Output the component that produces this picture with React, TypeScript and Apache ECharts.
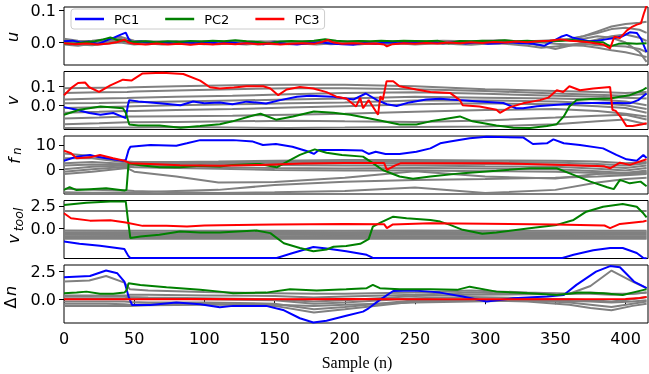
import React, { useEffect, useRef } from "react";
import * as echarts from "echarts";

// ---------- shared ----------
const X_MAX = 416;
const X_TICK_INTERVAL = 50;
const LEGEND_NAMES = ["PC1", "PC2", "PC3"];

// ---------- panel 1 : u ----------
const U_X = [0,10,20,30,40,50,60,70,80,90,100,110,120,130,140,150,160,170,180,190,200,210,220,230,240,250,260,270,280,290,300,310,320,330,340,350,360,370,380,390,400,410,415];
const U_GRAY = [
  [0.008,0.004,0.006,0.01,0.018,0.006,0.004,0.002,0.005,0.003,0.004,0.002,0.005,0.003,0.001,0.004,0.002,0.003,0.005,0.002,0.004,0.003,0.002,0.004,0.003,0.005,0.004,0.006,0.005,0.004,0.006,0.007,0.005,0.004,0.006,0.008,0.01,0.02,0.035,0.05,0.058,0.062,0.065],
  [0.002,-0.004,0.0,0.004,0.01,0.002,-0.002,0.001,-0.001,0.002,0.0,-0.002,0.001,-0.003,0.0,-0.001,0.002,-0.002,0.0,0.001,-0.002,0.0,0.002,-0.001,0.001,0.0,0.002,-0.001,0.001,0.003,0.002,0.004,0.002,0.003,0.004,0.006,0.012,0.02,0.03,0.042,0.046,0.04,0.03],
  [-0.006,-0.01,-0.004,-0.002,0.004,-0.003,-0.005,-0.002,-0.004,-0.002,-0.005,-0.003,-0.004,-0.006,-0.003,-0.005,-0.002,-0.004,-0.006,-0.003,-0.004,-0.002,-0.003,-0.004,-0.002,-0.003,-0.001,-0.004,-0.002,-0.001,-0.002,-0.003,-0.001,-0.002,-0.01,-0.02,-0.01,0.0,0.01,0.02,0.025,0.015,0.005],
  [0.004,0.0,0.003,0.006,0.012,0.001,0.003,-0.001,0.002,0.0,0.003,0.001,-0.001,0.002,0.004,0.001,0.003,0.0,0.002,0.004,0.001,0.003,0.0,0.002,0.004,0.001,0.003,0.002,0.0,0.002,0.001,0.003,0.004,0.002,0.0,-0.004,-0.006,-0.004,-0.008,-0.01,-0.012,-0.02,-0.03],
  [-0.002,-0.006,-0.008,-0.004,0.0,-0.006,-0.003,-0.006,-0.002,-0.005,-0.002,-0.005,-0.002,-0.004,-0.006,-0.002,-0.005,-0.003,-0.001,-0.005,-0.003,-0.006,-0.002,-0.005,-0.003,-0.006,-0.004,-0.002,-0.005,-0.007,-0.004,-0.002,-0.006,-0.01,-0.016,-0.012,-0.008,-0.01,-0.016,-0.024,-0.03,-0.04,-0.045],
  [0.012,0.006,0.002,0.0,0.006,0.0,0.002,0.004,0.0,0.003,0.001,0.004,0.002,0.0,0.002,0.003,0.0,0.004,0.002,-0.001,0.002,0.004,0.001,0.0,0.003,0.001,-0.001,0.002,0.003,0.001,0.004,0.002,0.0,0.003,0.002,0.004,0.008,0.012,0.02,0.015,0.0,-0.03,-0.06],
];
const U_PC1 = [[0,0.004],[6,0.006],[12,0.0],[18,0.003],[24,-0.004],[28,0.002],[32,0.01],[36,0.016],[40,0.024],[44,0.031],[46,0.012],[48,0.002],[55,0.003],[62,-0.002],[70,0.002],[78,-0.003],[86,0.001],[94,-0.002],[102,0.002],[110,-0.003],[118,0.001],[126,-0.004],[134,0.0],[142,-0.005],[150,0.001],[158,-0.004],[166,-0.006],[174,-0.002],[182,0.001],[190,-0.003],[198,-0.005],[206,-0.007],[214,-0.001],[222,-0.004],[230,0.001],[238,-0.002],[246,0.002],[254,-0.001],[262,0.002],[270,-0.002],[278,0.001],[286,-0.003],[294,0.001],[302,-0.004],[310,-0.002],[318,0.001],[326,-0.002],[334,-0.004],[342,-0.01],[348,0.004],[354,0.018],[358,0.024],[362,0.016],[368,0.01],[374,0.004],[380,0.006],[386,0.01],[392,0.014],[398,0.02],[403,0.032],[408,0.03],[411,0.012],[415,-0.03]];
const U_PC2 = [[0,-0.003],[8,-0.004],[15,0.001],[22,0.004],[28,0.01],[33,0.016],[38,0.008],[44,0.006],[50,0.002],[58,0.004],[66,0.001],[74,0.004],[82,0.002],[90,0.005],[98,0.003],[106,0.006],[114,0.004],[122,0.007],[130,0.004],[138,0.002],[146,-0.003],[154,0.003],[162,0.005],[170,0.003],[178,0.006],[186,0.01],[194,0.006],[202,0.003],[210,0.005],[218,0.004],[226,0.006],[234,0.004],[242,0.006],[250,0.005],[258,0.004],[266,0.006],[274,-0.002],[282,0.005],[290,0.004],[298,0.006],[306,0.005],[314,0.007],[322,0.004],[330,0.006],[338,0.003],[346,0.005],[354,0.006],[362,0.008],[370,0.004],[378,0.002],[384,0.001],[389,-0.012],[395,-0.004],[402,-0.002],[408,-0.004],[415,-0.002]];
const U_PC3 = [[0,-0.002],[8,-0.005],[16,-0.003],[24,-0.006],[32,-0.003],[38,0.002],[43,0.009],[46,0.0],[50,-0.004],[58,-0.006],[66,-0.003],[74,-0.006],[82,-0.004],[90,-0.007],[98,-0.004],[106,-0.006],[114,-0.003],[122,-0.005],[130,-0.002],[138,-0.005],[146,-0.003],[154,-0.006],[162,-0.004],[170,-0.002],[178,-0.004],[184,0.002],[188,0.008],[192,0.0],[198,-0.004],[206,-0.002],[214,-0.004],[222,-0.003],[228,-0.006],[230,-0.012],[234,-0.005],[242,-0.002],[250,-0.004],[258,-0.001],[266,-0.003],[274,0.0],[282,-0.002],[290,0.001],[298,-0.001],[306,0.002],[314,0.0],[322,0.003],[330,0.001],[338,0.004],[346,0.006],[354,0.01],[360,0.006],[366,0.004],[372,0.002],[378,-0.002],[384,-0.006],[389,-0.018],[392,0.018],[396,0.014],[401,0.038],[405,0.05],[408,0.056],[411,0.06],[413,0.09],[415,0.115]];

// ---------- panel 2 : v ----------
const V_X = [0,25,45,50,80,120,160,200,250,300,350,380,400,415];
const V_GRAY = [
  [0.09,0.092,0.094,0.095,0.1,0.105,0.108,0.108,0.1,0.085,0.075,0.07,0.065,0.07],
  [0.065,0.068,0.07,0.072,0.078,0.085,0.09,0.09,0.085,0.075,0.062,0.055,0.05,0.06],
  [0.03,0.035,0.038,0.04,0.045,0.05,0.058,0.065,0.068,0.06,0.05,0.045,0.04,0.035],
  [0.01,0.012,0.015,0.016,0.02,0.025,0.03,0.035,0.045,0.04,0.035,0.03,0.02,0.0],
  [-0.015,-0.01,-0.006,-0.005,0.0,0.005,0.01,0.015,0.025,0.025,0.02,0.01,0.0,-0.02],
  [-0.04,-0.035,-0.03,-0.03,-0.025,-0.02,-0.012,-0.005,0.005,0.01,0.005,-0.005,-0.015,-0.04],
  [-0.07,-0.065,-0.06,-0.06,-0.058,-0.055,-0.05,-0.045,-0.035,-0.025,-0.02,-0.03,-0.045,-0.06],
  [-0.1,-0.095,-0.09,-0.09,-0.088,-0.085,-0.082,-0.085,-0.088,-0.08,-0.065,-0.055,-0.05,-0.075],
  [-0.12,-0.119,-0.118,-0.118,-0.115,-0.117,-0.12,-0.118,-0.115,-0.112,-0.1,-0.085,-0.075,-0.1],
];
const V_PC1 = [[0,-0.01],[9,-0.024],[18,-0.041],[26,-0.05],[35,-0.041],[41,-0.059],[44,-0.067],[45.5,0.0],[46.5,0.027],[53,0.02],[68,0.01],[83,0.0],[92,0.02],[100,0.01],[111,0.015],[120,0.005],[130,0.019],[144,0.009],[154,0.027],[166,0.045],[175,0.05],[192,0.045],[206,0.03],[215,0.062],[223,0.027],[230,0.005],[237,-0.004],[246,0.015],[258,0.03],[268,0.034],[275,0.03],[296,0.02],[313,0.012],[322,-0.016],[327,-0.016],[337,-0.005],[356,0.005],[368,0.01],[384,0.013],[403,0.01],[409,0.027],[415,0.062]];
const V_PC2 = [[0,-0.05],[11,-0.024],[26,-0.007],[33,-0.01],[42,-0.016],[44,-0.04],[46.5,-0.102],[53,-0.107],[68,-0.107],[83,-0.119],[97,-0.11],[111,-0.1],[120,-0.085],[132,-0.059],[140,-0.045],[151,-0.076],[163,-0.059],[178,-0.033],[192,-0.04],[204,-0.05],[216,-0.067],[225,-0.08],[239,-0.102],[251,-0.102],[261,-0.085],[268,-0.076],[282,-0.059],[291,-0.085],[308,-0.107],[320,-0.119],[332,-0.12],[344,-0.11],[351,-0.1],[356,-0.059],[360,-0.007],[365,0.027],[375,0.033],[389,0.036],[396,0.045],[403,0.053],[412,0.079],[415,0.093]];
const V_PC3 = [[0,0.053],[5,0.09],[10,0.117],[15,0.12],[18,0.095],[25,0.07],[33,0.105],[42,0.135],[48,0.13],[56,0.168],[70,0.172],[85,0.165],[97,0.13],[104,0.095],[111,0.088],[121,0.093],[130,0.1],[142,0.1],[147,0.088],[152.6,0.053],[158.6,0.083],[168,0.096],[177.6,0.088],[187,0.069],[194,0.045],[201,0.036],[208,-0.007],[211,0.04],[213,-0.016],[217,0.027],[223.7,-0.05],[225.4,0.048],[227,0.027],[229.8,0.127],[234.5,0.127],[239,0.1],[251,0.083],[261,0.07],[275,0.065],[282,0.027],[284,0.0],[296,-0.007],[308,-0.024],[310.5,-0.04],[317.7,-0.01],[327,0.01],[339,0.027],[345,0.04],[351,0.079],[355.6,0.07],[360,0.1],[367.5,0.079],[377,0.088],[389,0.096],[390.7,-0.024],[393,-0.03],[397,-0.067],[400.7,-0.11],[405,-0.11],[412,-0.1],[415,-0.095]];

// ---------- panel 3 : f_n ----------
const F_X = [0,20,45,50,80,110,150,200,250,300,350,380,400,415];
const F_GRAY = [
  [6.5,5.5,3.2,3.0,3.0,3.2,3.5,3.8,3.8,3.6,3.5,3.2,2.5,3.0],
  [4.5,4.5,2.8,2.6,2.7,2.8,3.0,3.2,3.0,3.0,2.8,2.2,1.5,2.5],
  [2.5,3.0,2.2,2.2,2.3,2.4,2.5,2.6,2.4,2.2,2.0,1.2,0.5,1.5],
  [1.5,2.0,1.8,1.8,1.8,1.9,1.8,1.5,1.5,1.2,1.0,0.2,-0.5,0.5],
  [0.0,1.0,1.5,1.5,1.2,0.8,0.5,0.3,0.5,0.3,0.0,-0.8,-1.5,-0.5],
  [-1.0,0.0,1.0,0.8,0.5,0.2,-0.3,-0.5,-0.5,-0.8,-1.0,-1.5,-2.0,-1.5],
  [-2.0,-1.0,0.5,-1.0,-3.0,-5.5,-5.3,-3.5,-0.8,-3.0,-3.8,-2.0,-1.5,-1.0],
  [-9.5,-9.7,-9.6,-9.6,-9.0,-8.5,-6.5,-5.2,-4.4,-4.0,-3.5,-3.0,-2.5,-2.0],
  [-8.0,-8.5,-8.8,-9.0,-9.5,-9.8,-9.5,-9.0,-7.5,-9.8,-8.5,-5.5,-4.0,-3.5],
];
const F_PC1 = [[0,3.5],[9,5.2],[18.5,5.9],[25.6,4.9],[35,4.1],[42,3.5],[44,3.8],[46,7.9],[47.3,9.3],[61.5,10.0],[80,9.7],[87.5,10.7],[97,12.0],[120.5,12.0],[134.6,11.4],[141.7,10.0],[151,10.4],[162.7,9.3],[174.5,7.2],[178,6.3],[181.6,7.9],[198,7.9],[212.6,7.7],[217,6.3],[222,7.2],[229,6.3],[239,6.3],[251,7.2],[261,8.6],[268,10.7],[275,11.4],[289,12.8],[301,13.4],[327,13.1],[334,10.4],[344,10.7],[348.6,12.3],[356,10.7],[367.5,10.0],[384,8.6],[393.5,5.9],[400.7,4.1],[408,3.5],[412.7,5.9],[415,4.6]];
const F_PC2 = [[0,-8.5],[4,-7.4],[9,-8.6],[18.5,-8.2],[30,-7.8],[43,-8.8],[44.5,-8.5],[46,2.5],[54.4,1.6],[68,0.8],[82.6,0.8],[97,1.4],[111,1.1],[120.5,1.8],[139.6,2.2],[151.5,0.8],[161,3.8],[168,5.9],[178.6,8.2],[187,6.8],[198,5.9],[213,5.2],[220,2.5],[227,-0.3],[239,-3.0],[248.6,-3.9],[261,-3.0],[284,-1.6],[308,-0.6],[331.6,0.4],[351,0.4],[363,-2.3],[375,-5.1],[387,-7.4],[391.6,-8.2],[396,-4.4],[403,-5.8],[410.7,-5.1],[415,-7.0]];
const F_PC3 = [[0,7.7],[5,6.6],[9,4.5],[18.5,4.9],[25.6,5.9],[35,4.5],[43,3.5],[47,2.5],[61.5,2.2],[82.6,1.6],[111,1.4],[140,1.8],[170,2.4],[200,2.6],[228,2.6],[230,-0.3],[236,1.6],[240,2.5],[261,2.5],[308,2.5],[356,1.8],[385,1.2],[389,0.4],[396,2.7],[403,1.8],[415,4.1]];

// ---------- panel 4 : v_tool ----------
const T_X = [0,45,50,100,150,200,250,300,350,400,415];
const T_GRAY = [
  [1.95,1.95,1.95,1.95,1.95,1.95,1.95,1.95,1.95,1.95,1.95],
  [-0.25,-0.28,-0.3,-0.3,-0.28,-0.3,-0.25,-0.3,-0.28,-0.3,-0.3],
  [-0.45,-0.45,-0.48,-0.45,-0.42,-0.45,-0.43,-0.45,-0.47,-0.45,-0.45],
  [-0.6,-0.6,-0.62,-0.6,-0.6,-0.62,-0.6,-0.6,-0.6,-0.62,-0.6],
  [-0.75,-0.72,-0.75,-0.75,-0.72,-0.75,-0.73,-0.75,-0.75,-0.73,-0.75],
  [-0.9,-0.88,-0.9,-0.88,-0.9,-0.88,-0.9,-0.9,-0.88,-0.9,-0.9],
  [-1.05,-1.05,-1.02,-1.05,-1.05,-1.03,-1.05,-1.05,-1.05,-1.03,-1.05],
  [-1.2,-1.18,-1.2,-1.2,-1.18,-1.2,-1.2,-1.18,-1.2,-1.2,-1.2],
];
const T_PC1 = [[0,-1.5],[11,-1.75],[25.6,-1.98],[43,-2.35],[46,-3.18],[47.3,-3.36],[151.5,-3.36],[163,-2.8],[177.6,-2.13],[187,-2.3],[201,-2.6],[215.6,-3.0],[220,-3.36],[355,-3.36],[363,-3.0],[377,-2.5],[389,-2.24],[398,-2.24],[408,-2.8],[412.7,-3.36],[415,-3.4]];
const T_PC2 = [[0,2.6],[16,2.87],[33,3.0],[44,3.0],[45.5,1.0],[47.3,-1.12],[54.4,-0.94],[68,-0.75],[82.6,-0.38],[97,-0.5],[111,-0.5],[120.5,-0.4],[137,-0.27],[147,-0.56],[156.6,-1.7],[168,-2.24],[177.6,-2.6],[187,-2.4],[192,-2.1],[201,-2.0],[211,-1.76],[217,-1.24],[220,0.18],[225.4,0.63],[234.5,1.3],[244,1.12],[261,0.93],[268,0.74],[275,0.37],[284,-0.19],[298,-0.64],[308,-0.5],[331.6,0.0],[351,0.37],[363,0.93],[372,1.86],[384,2.42],[398,2.72],[408,2.42],[412.7,1.68],[415,1.23]];
const T_PC3 = [[0,1.68],[5,1.12],[18.5,0.85],[33,0.9],[44,0.63],[56,0.26],[73,0.26],[87.6,0.19],[100,0.3],[111,0.33],[150,0.4],[200,0.48],[228,0.45],[230,0.0],[234,0.4],[261,0.56],[300,0.5],[350,0.4],[385,0.3],[389,0.0],[396,0.48],[412.7,0.75],[415,0.85]];

// ---------- panel 5 : Δn ----------
const N_X = [0,18,30,43,47,60,100,150,178,200,250,290,330,360,375,390,405,415];
const N_GRAY = [
  [1.6,1.7,2.1,1.5,0.9,0.8,0.65,0.55,0.5,0.5,0.6,0.8,0.6,0.5,0.5,0.4,0.5,0.6],
  [0.3,0.3,0.35,0.35,0.2,0.15,0.1,0.0,-0.2,-0.1,0.3,0.4,0.45,0.5,1.2,2.6,1.6,1.0],
  [0.35,0.35,0.3,0.3,0.4,0.4,0.35,0.3,0.15,0.25,0.4,0.6,0.5,0.5,0.6,0.5,0.5,0.6],
  [0.1,0.1,0.1,0.1,0.15,0.1,0.0,-0.1,-0.4,-0.3,0.1,0.2,0.1,0.0,-0.1,-0.2,0.0,0.2],
  [-0.2,-0.2,-0.2,-0.2,-0.25,-0.3,-0.3,-0.4,-0.9,-0.7,-0.1,0.0,-0.1,-0.3,-0.5,-0.7,-0.4,-0.2],
  [-0.4,-0.4,-0.4,-0.45,-0.5,-0.45,-0.4,-0.6,-1.2,-0.9,-0.2,-0.1,-0.2,-0.5,-0.8,-1.0,-0.6,-0.4],
  [-0.6,-0.6,-0.6,-0.6,-0.6,-0.55,-0.5,-0.5,-0.6,-0.5,-0.3,-0.2,-0.1,-0.15,-0.2,-0.3,-0.2,-0.1],
];
const N_PC1 = [[0,2.0],[18.5,2.1],[30,2.6],[38,2.35],[43,1.6],[46,0.24],[48.5,-0.52],[61.5,-0.52],[80,-0.3],[97,-0.45],[111,-0.73],[120.5,-0.6],[144,-0.6],[156,-0.97],[168,-1.72],[177.6,-2.1],[187,-1.94],[201,-1.5],[213,-1.12],[217,-0.82],[225,-0.06],[234.5,0.75],[249,0.8],[261,0.69],[268,0.6],[284,0.24],[301,-0.21],[320,0.09],[344,0.24],[356,0.39],[365,1.3],[379,2.5],[389,3.0],[396,2.9],[406,1.6],[413,1.14],[415,1.0]];
const N_PC2 = [[0,0.54],[9,0.6],[16,0.69],[25.6,0.5],[35,0.5],[43,0.6],[44.5,0.8],[46,1.45],[54.4,1.3],[73,1.09],[97,0.85],[111,0.69],[120.5,0.54],[144,0.6],[161,0.9],[180,0.8],[201,0.9],[215.6,1.0],[220,1.3],[225,1.0],[239,0.9],[261,0.9],[280,0.85],[289,1.14],[308,0.69],[331.6,0.54],[351,0.39],[367.5,0.6],[384,0.54],[398,0.39],[413,0.85],[415,0.9]];
const N_PC3 = [[0,0.0],[50,0.0],[100,0.02],[150,0.0],[200,0.02],[250,0.0],[300,0.0],[350,0.0],[400,0.02],[410,0.12],[415,0.2]];

// ---------- axes ----------
const Y_RANGES = [[-0.07, 0.111], [-0.128, 0.178], [-10.2, 13.7], [-3.42, 3.12], [-2.15, 3.1]];
const Y_TICKS = [[0, 0.1], [0, 0.1], [0, 10], [0, 2.5], [0, 2.5]];
const Y_DECIMALS = [1, 1, 0, 1, 1];

const PANELS = [
  { xs: U_X, grays: U_GRAY, pcs: [U_PC1, U_PC2, U_PC3] },
  { xs: V_X, grays: V_GRAY, pcs: [V_PC1, V_PC2, V_PC3] },
  { xs: F_X, grays: F_GRAY, pcs: [F_PC1, F_PC2, F_PC3] },
  { xs: T_X, grays: T_GRAY, pcs: [T_PC1, T_PC2, T_PC3] },
  { xs: N_X, grays: N_GRAY, pcs: [N_PC1, N_PC2, N_PC3] },
];

const GRID_TOPS = [7, 71.5, 136, 200.5, 265];
const GRID_H = 58;
const PC_COLORS = ["#0000ff", "#008000", "#ff0000"];
const GRAY = "#808080";
const FONT = "DejaVu Sans";

export default function App() {
  const ref = useRef<HTMLDivElement>(null);
  useEffect(() => {
    if (!ref.current) return;
    const chart = echarts.init(ref.current, null, { renderer: "svg" });

    const grids = GRID_TOPS.map((t) => ({
      left: 64, right: 1, top: t, height: GRID_H,
      show: true, borderColor: "#000", borderWidth: 1, backgroundColor: "transparent",
    }));
    const xAxes = GRID_TOPS.map((_, i) => {
      const last = i === GRID_TOPS.length - 1;
      return {
        type: "value", gridIndex: i, min: 0, max: X_MAX, interval: X_TICK_INTERVAL,
        axisLine: { show: false },
        axisTick: { show: last, inside: false, length: 5, lineStyle: { color: "#000", width: 1 } },
        axisLabel: { show: last, color: "#000", fontSize: 16, fontFamily: FONT, margin: 7,
          showMaxLabel: false },
        splitLine: { show: false },
      };
    });
    const yAxes = Y_RANGES.map((r, i) => ({
      type: "value", gridIndex: i, min: r[0], max: r[1],
      axisLine: { show: false },
      axisTick: { show: true, inside: false, length: 5, customValues: Y_TICKS[i], lineStyle: { color: "#000", width: 1 } },
      axisLabel: { color: "#000", fontSize: 16, fontFamily: FONT, margin: 8, customValues: Y_TICKS[i],
        formatter: (v: number) => v.toFixed(Y_DECIMALS[i]) },
      splitLine: { show: false },
    }));

    const series: any[] = [];
    PANELS.forEach((p, i) => {
      p.grays.forEach((ys) => {
        series.push({
          type: "line", xAxisIndex: i, yAxisIndex: i, symbol: "none", silent: true,
          data: p.xs.map((x, k) => [x, ys[k]]),
          lineStyle: { color: GRAY, width: 2 }, z: 2,
        });
      });
      p.pcs.forEach((d, k) => {
        series.push({
          name: LEGEND_NAMES[k], type: "line", xAxisIndex: i, yAxisIndex: i, symbol: "none", showSymbol: false,
          data: d, lineStyle: { color: PC_COLORS[k], width: 2 }, itemStyle: { color: PC_COLORS[k] }, z: 3 + k,
        });
      });
    });

    const italic = { fontStyle: "italic", fontFamily: FONT, fill: "#000" };
    const txt = (x: number, y: number, text: string, size: number, extra: any = {}) => ({
      type: "text", x, y,
      style: { text, fontSize: size, ...italic, align: "center", verticalAlign: "middle",
        textAlign: "center", textVerticalAlign: "middle", ...extra },
    });

    chart.setOption({
      animation: false,
      grid: grids,
      xAxis: xAxes,
      yAxis: yAxes,
      legend: {
        data: LEGEND_NAMES.map((n) => ({ name: n, icon: "rect" })), left: 71, top: 9, orient: "horizontal",
        itemWidth: 29, itemHeight: 2.5, itemGap: 26,
        padding: [3, 5, 3, 4],
        backgroundColor: "rgba(255,255,255,0.8)", borderColor: "#cccccc", borderWidth: 1, borderRadius: 3,
        textStyle: { fontSize: 13, fontFamily: FONT, color: "#000", padding: [0, 0, 0, 5], lineHeight: 14 },
      },
      graphic: [
        { type: "group", x: 12, y: 37, rotation: Math.PI / 2, children: [txt(0, 0, "u", 16)] },
        { type: "group", x: 12, y: 100.5, rotation: Math.PI / 2, children: [txt(0, 0, "v", 16)] },
        { type: "group", x: 14, y: 157, rotation: Math.PI / 2, children: [txt(-4, 0, "f", 16), txt(6, 3, "n", 11.5)] },
        { type: "group", x: 13, y: 228, rotation: Math.PI / 2, children: [txt(-11, 0, "v", 16), txt(8.5, 5, "tool", 12.5)] },
        { type: "group", x: 10, y: 298, rotation: Math.PI / 2, children: [
          txt(-5, 0, "Δ", 16, { fontStyle: "normal" }), txt(7, 0, "n", 16)] },
        { type: "text", x: 357, y: 362, style: { text: "Sample (n)", fontSize: 16, fontFamily: "Liberation Serif",
          fill: "#000", align: "center", verticalAlign: "middle", textAlign: "center", textVerticalAlign: "middle" } },
      ],
      series,
    });
    return () => chart.dispose();
  }, []);
  return <div ref={ref} style={{ position: "fixed", left: 0, top: 0, width: 649, height: 374 }} />;
}
